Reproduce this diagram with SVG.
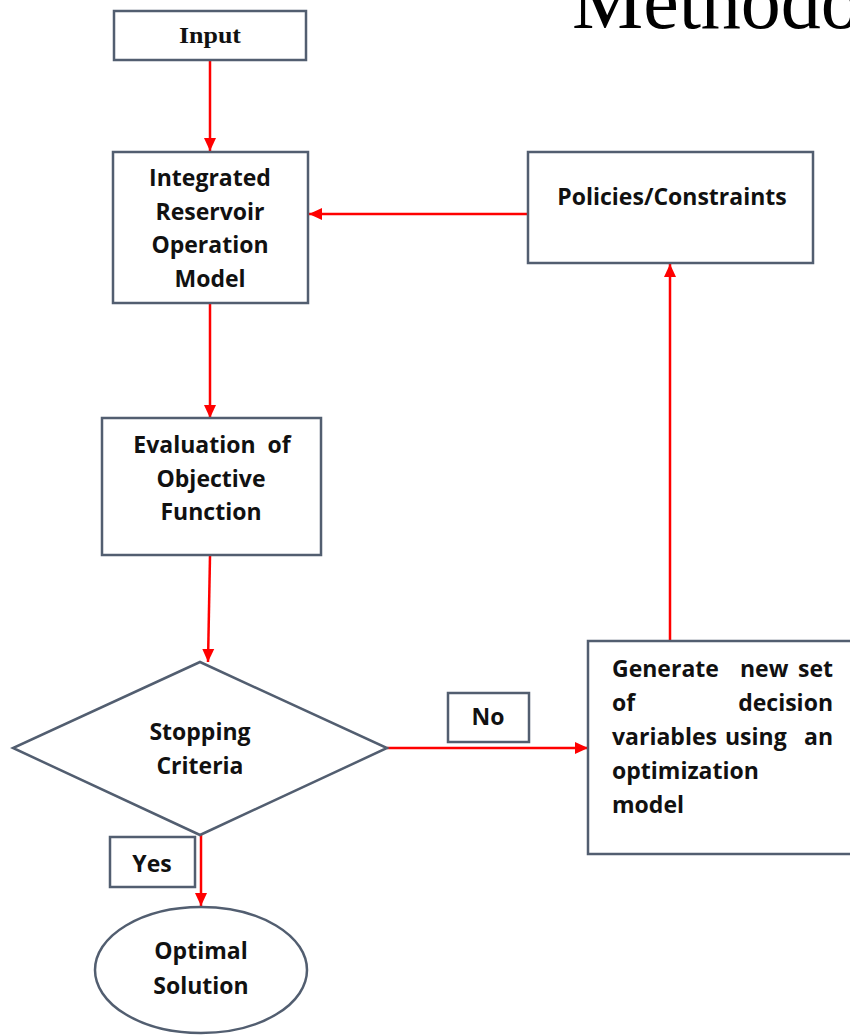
<svg xmlns="http://www.w3.org/2000/svg" width="850" height="1035" viewBox="0 0 850 1035">
<defs>
<marker id="ah" markerUnits="userSpaceOnUse" markerWidth="14" markerHeight="14" viewBox="0 0 14 14" refX="13" refY="7" orient="auto">
<path d="M0,1 L13,7 L0,13 Z" fill="#ff0000"/>
</marker>
<style>
.box{fill:#ffffff;stroke:#525e70;stroke-width:2.5}
.t{font-family:"Open Sans","DejaVu Sans",sans-serif;font-weight:700;font-size:23px;fill:#111;text-anchor:middle}
.tl{font-family:"Open Sans","DejaVu Sans",sans-serif;font-weight:700;font-size:23px;fill:#111}
.c{stroke:#ff0000;stroke-width:2.5;fill:none;marker-end:url(#ah)}
</style>
</defs>
<rect width="850" height="1035" fill="#ffffff"/>
<text x="572" y="28" font-family="'Liberation Serif',serif" font-size="80" fill="#000">Methodology</text>
<g id="connectors">
<line class="c" x1="210" y1="61" x2="210" y2="151"/>
<line class="c" x1="528" y1="214" x2="309" y2="214"/>
<line class="c" x1="210" y1="303" x2="210" y2="418"/>
<line class="c" x1="210" y1="556" x2="208" y2="662"/>
<line class="c" x1="387" y1="748" x2="588" y2="748"/>
<line class="c" x1="670" y1="641" x2="670" y2="264"/>
<line class="c" x1="201" y1="835" x2="201" y2="906"/>
</g>
<g id="input">
<rect class="box" x="114" y="11" width="192" height="49"/>
<text x="210" y="43" font-family="'Liberation Serif',serif" font-weight="700" font-size="23" text-anchor="middle" textLength="62" lengthAdjust="spacingAndGlyphs" fill="#111">Input</text>
</g>
<g id="irom">
<rect class="box" x="113" y="152" width="195" height="151"/>
<text class="t"><tspan x="210" y="186">Integrated</tspan><tspan x="210" y="219.5">Reservoir</tspan><tspan x="210" y="253">Operation</tspan><tspan x="210" y="286.5">Model</tspan></text>
</g>
<g id="policies">
<rect class="box" x="528" y="152" width="285" height="111"/>
<text class="t" x="672" y="205">Policies/Constraints</text>
</g>
<g id="evaluation">
<rect class="box" x="102" y="418" width="219" height="137"/>
<text class="t"><tspan x="212" y="453" xml:space="preserve">Evaluation  of</tspan><tspan x="211" y="487">Objective</tspan><tspan x="211" y="520">Function</tspan></text>
</g>
<g id="stopping">
<polygon class="box" points="200,662 387,748 200,835 13,748"/>
<text class="t"><tspan x="200" y="740">Stopping</tspan><tspan x="200" y="774">Criteria</tspan></text>
</g>
<g id="no">
<rect class="box" x="448" y="693" width="81" height="49"/>
<text class="t" x="488" y="725">No</text>
</g>
<g id="generate">
<rect class="box" x="588" y="641" width="266" height="213"/>
<text class="tl"><tspan x="612" y="677">Generate</tspan><tspan x="740" y="677">new</tspan><tspan x="833" y="677" text-anchor="end">set</tspan><tspan x="612" y="711">of</tspan><tspan x="833" y="711" text-anchor="end">decision</tspan><tspan x="612" y="745">variables</tspan><tspan x="725" y="745">using</tspan><tspan x="833" y="745" text-anchor="end">an</tspan><tspan x="612" y="779">optimization</tspan><tspan x="612" y="813">model</tspan></text>
</g>
<g id="yes">
<rect class="box" x="110" y="837" width="85" height="50"/>
<text class="t" x="152" y="872">Yes</text>
</g>
<g id="optimal">
<ellipse class="box" cx="201" cy="970" rx="106" ry="63"/>
<text class="t"><tspan x="201" y="959">Optimal</tspan><tspan x="201" y="994">Solution</tspan></text>
</g>
</svg>
